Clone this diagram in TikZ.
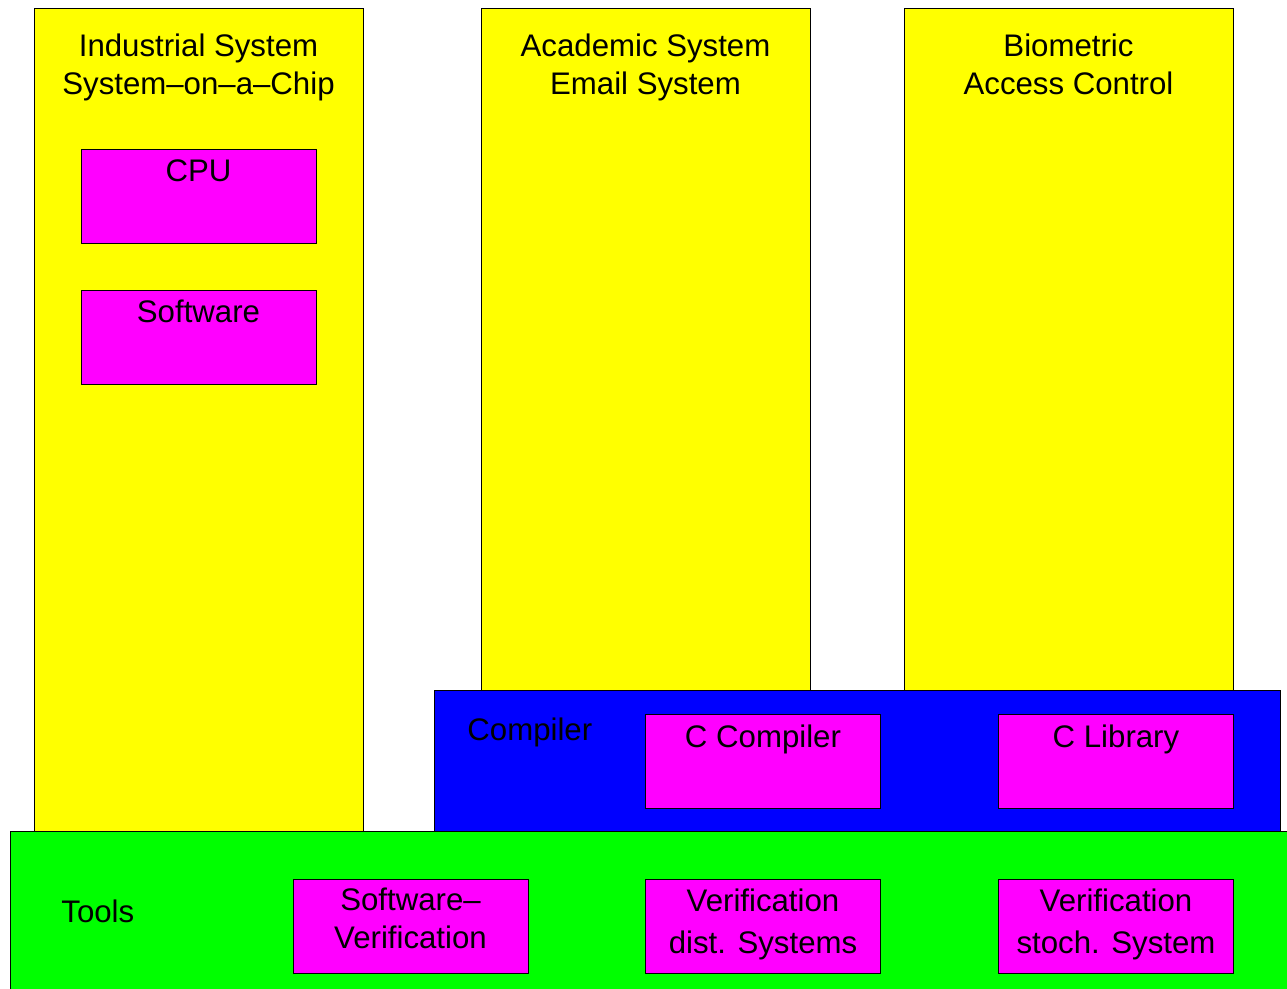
\documentclass[tikz,border=0pt]{standalone}
\usepackage{fontspec}
\setmainfont{Liberation Sans}
\usepackage{xcolor}
\usetikzlibrary{positioning}
\definecolor{sysyellow}{RGB}{255,255,0}
\definecolor{partmagenta}{RGB}{255,0,255}
\definecolor{compblue}{RGB}{0,0,255}
\definecolor{toolgreen}{RGB}{0,255,0}

\begin{document}
\begin{tikzpicture}[x=0.5pt, y=-0.5pt,
    box/.style={draw=black, line width=0.4pt, inner sep=0pt, outer sep=0pt},
    sysbox/.style={box, fill=sysyellow, minimum width=164.5pt},
    partbox/.style={box, fill=partmagenta, minimum width=117.5pt, minimum height=47pt},
    txt/.style={inner sep=0pt, align=center, font=\fontsize{15.6}{19}\selectfont}]
            \useasboundingbox (0,0) rectangle (1287,989);
            % systems
            \node[sysbox, minimum height=411.5pt] (ind) at (198.5,419.5) {};
            \node[sysbox, minimum height=341pt] (acad) at (645.5,349) {};
            \node[sysbox, minimum height=341pt] (bio) at (1068.5,349) {};
            % layers
            \node[box, fill=compblue, minimum width=423pt, minimum height=70.5pt] (comp) at (857,760.5) {};
            \node[box, fill=toolgreen, minimum width=640pt, minimum height=82pt] (tools) at (650,913) {};
            % parts
            \node[partbox] (cpu) at (198.5,196) {};
            \node[partbox] (sw) at (198.5,337) {};
            \node[partbox] (ccomp) at (763,761.5) {};
            \node[partbox] (clib) at (1116,761.5) {};
            \node[partbox] (swver) at (410.5,926.5) {};
            \node[partbox] (verdist) at (763,926.5) {};
            \node[partbox] (verstoch) at (1116,926.5) {};
            % labels
            \node[txt, below=12.5pt of ind.north] (indtxt) {Industrial System\\System–on–a–Chip};
            \node[txt, below=12.5pt of acad.north] (acadtxt) {Academic System\\Email System};
            \node[txt, below=12.5pt of bio.north] (biotxt) {Biometric\\Access Control};
            \node[txt, below right=13.5pt and 16.5pt of comp.north west] (comptxt) {Compiler};
            \node[txt, below right=34pt and 25.5pt of tools.north west] (toolstxt) {Tools};
            \node[txt, below=5pt of cpu.north] (cputxt) {CPU};
            \node[txt, below=5pt of sw.north] (swtxt) {Software};
            \node[txt, below=5pt of ccomp.north] (ccomptxt) {C Compiler};
            \node[txt, below=5pt of clib.north] (clibtxt) {C Library};
            \node[txt, below=4pt of swver.north] (swvertxt) {Software–\\Verification};
            \node[txt, font=\fontsize{15.6}{21}\selectfont, below=4.5pt of verdist.north] (verdisttxt) {Verification\\dist. Systems};
            \node[txt, font=\fontsize{15.6}{21}\selectfont, below=4.5pt of verstoch.north] (verstochtxt) {Verification\\stoch. System};
\end{tikzpicture}
\end{document}
